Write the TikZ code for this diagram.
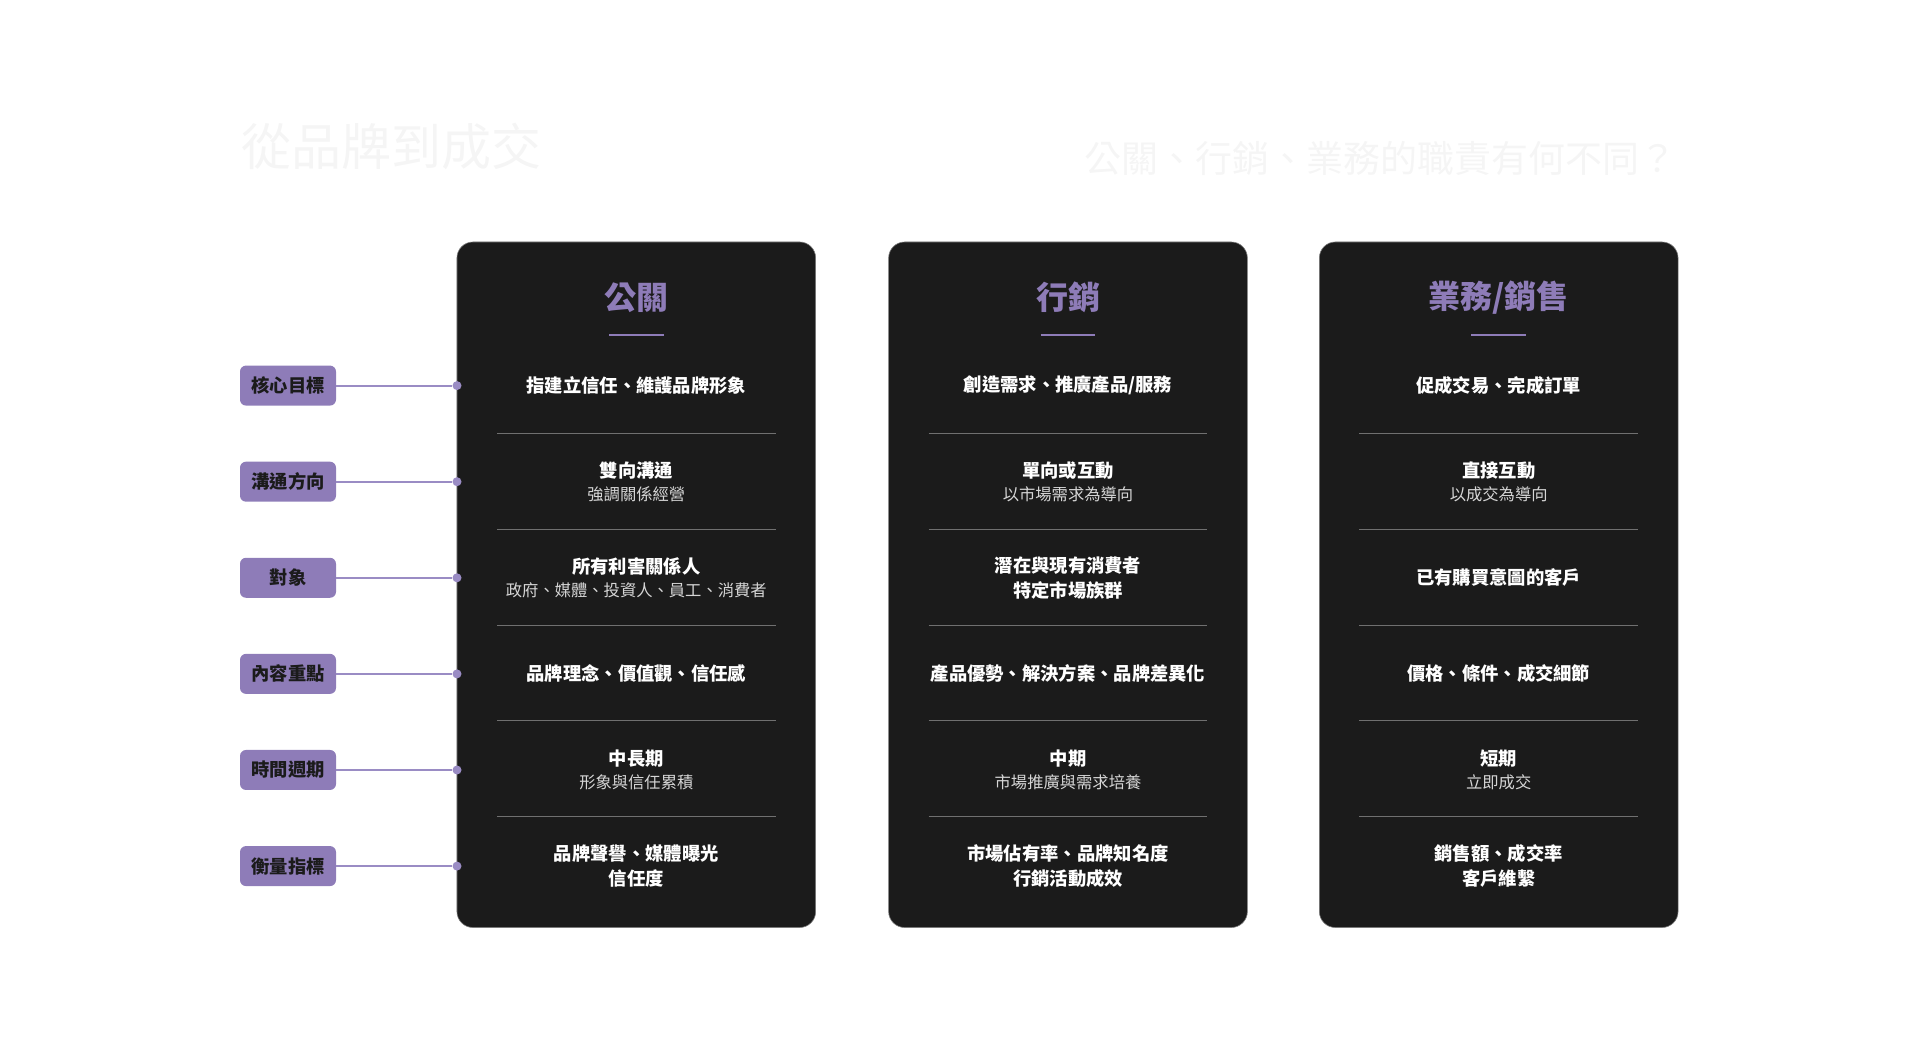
\documentclass[tikz,border=0pt]{standalone}
\usepackage{fontspec}
\newfontfamily\cjk{Noto Sans CJK TC}
\definecolor{cardbg}{HTML}{1B1B1B}
\definecolor{cardedge}{HTML}{7A7A7A}
\definecolor{lilac}{HTML}{8E7CB8}
\definecolor{lilacln}{HTML}{9A8CC4}
\definecolor{ghost}{HTML}{F5F5F5}
\definecolor{rulegray}{HTML}{707070}
\definecolor{subgray}{HTML}{D6D6D6}
\newcommand\subline[1]{\\[-1.5pt]{\mdseries\fontsize{16.3}{22}\selectfont\color{subgray}#1}}
\begin{document}
\begin{tikzpicture}[x=1pt, y=1pt,
  ghosttitle/.style={text=ghost, inner sep=0pt},
  card/.style={fill=cardbg, draw=cardedge, line width=0.6pt, rounded corners=16pt, minimum width=358.7pt, minimum height=685.5pt},
  head/.style={text=lilac, font=\cjk\bfseries\fontsize{32}{36}\selectfont},
  uline/.style={lilac, line width=2pt},
  sep/.style={rulegray, line width=0.8pt},
  cell/.style={text=white, align=center, font=\cjk\bfseries\fontsize{18.3}{25}\selectfont},
  tag/.style={fill=lilac, rounded corners=6pt, minimum width=96pt, minimum height=40pt, text=cardbg, font=\cjk\bfseries\fontsize{18.3}{22}\selectfont},
  dot/.style={circle, fill=lilacln, minimum size=9pt, inner sep=0pt},
  link/.style={lilacln, line width=2pt}]
\useasboundingbox (0,0) rectangle (1920,1041);
\node[ghosttitle, font=\cjk\fontsize{50}{54}\selectfont] (ttl) at (391,895){從品牌到成交};
\node[ghosttitle, font=\cjk\fontsize{37}{42}\selectfont] (sttl) at (1380.6,882.5){公關、行銷、業務的職責有何不同？};
\node[card] (card0) at (636.3,456.25){};
\node[card] (card1) at (1068,456.25){};
\node[card] (card2) at (1498.7,456.25){};
\node[head] (hd0) at (636.3,743.4){公關};
\node[head] (hd1) at (1068,743.4){行銷};
\node[head] (hd2) at (1498.7,743.4){業務/銷售};
\draw[uline] (609,705.6) -- (663.6,705.6);
\draw[uline] (1040.7,705.6) -- (1095.3,705.6);
\draw[uline] (1471.4,705.6) -- (1526,705.6);
\draw[sep] (497,607.7) -- (775.6,607.7) (497,511.9) -- (775.6,511.9) (497,415.5) -- (775.6,415.5) (497,320.1) -- (775.6,320.1) (497,224.8) -- (775.6,224.8);
\draw[sep] (928.7,607.7) -- (1207.3,607.7) (928.7,511.9) -- (1207.3,511.9) (928.7,415.5) -- (1207.3,415.5) (928.7,320.1) -- (1207.3,320.1) (928.7,224.8) -- (1207.3,224.8);
\draw[sep] (1359.4,607.7) -- (1638,607.7) (1359.4,511.9) -- (1638,511.9) (1359.4,415.5) -- (1638,415.5) (1359.4,320.1) -- (1638,320.1) (1359.4,224.8) -- (1638,224.8);
\node[tag] (tag0) at (288,655.4){核心目標};
\node[tag] (tag1) at (288,559.3){溝通方向};
\node[tag] (tag2) at (288,463.2){對象};
\node[tag] (tag3) at (288,367.1){內容重點};
\node[tag] (tag4) at (288,271){時間週期};
\node[tag] (tag5) at (288,174.9){衡量指標};
\node[dot] (dot0) at (457,655.4){};
\node[dot] (dot1) at (457,559.3){};
\node[dot] (dot2) at (457,463.2){};
\node[dot] (dot3) at (457,367.1){};
\node[dot] (dot4) at (457,271){};
\node[dot] (dot5) at (457,174.9){};
\draw[link] (tag0) -- (dot0);
\draw[link] (tag1) -- (dot1);
\draw[link] (tag2) -- (dot2);
\draw[link] (tag3) -- (dot3);
\draw[link] (tag4) -- (dot4);
\draw[link] (tag5) -- (dot5);
\node[cell] (pr0) at (636.3,655.4){指建立信任、維護品牌形象};
\node[cell] (pr1) at (636.3,559.3){雙向溝通\subline{強調關係經營}};
\node[cell] (pr2) at (636.3,463.2){所有利害關係人\subline{政府、媒體、投資人、員工、消費者}};
\node[cell] (pr3) at (636.3,367.1){品牌理念、價值觀、信任感};
\node[cell] (pr4) at (636.3,271){中長期\subline{形象與信任累積}};
\node[cell] (pr5) at (636.3,174.9){品牌聲譽、媒體曝光\\信任度};
\node[cell] (mk0) at (1068,655.4){創造需求、推廣產品/服務};
\node[cell] (mk1) at (1068,559.3){單向或互動\subline{以市場需求為導向}};
\node[cell] (mk2) at (1068,463.2){潛在與現有消費者\\特定市場族群};
\node[cell] (mk3) at (1068,367.1){產品優勢、解決方案、品牌差異化};
\node[cell] (mk4) at (1068,271){中期\subline{市場推廣與需求培養}};
\node[cell] (mk5) at (1068,174.9){市場佔有率、品牌知名度\\行銷活動成效};
\node[cell] (sl0) at (1498.7,655.4){促成交易、完成訂單};
\node[cell] (sl1) at (1498.7,559.3){直接互動\subline{以成交為導向}};
\node[cell] (sl2) at (1498.7,463.2){已有購買意圖的客戶};
\node[cell] (sl3) at (1498.7,367.1){價格、條件、成交細節};
\node[cell] (sl4) at (1498.7,271){短期\subline{立即成交}};
\node[cell] (sl5) at (1498.7,174.9){銷售額、成交率\\客戶維繫};
\end{tikzpicture}
\end{document}
